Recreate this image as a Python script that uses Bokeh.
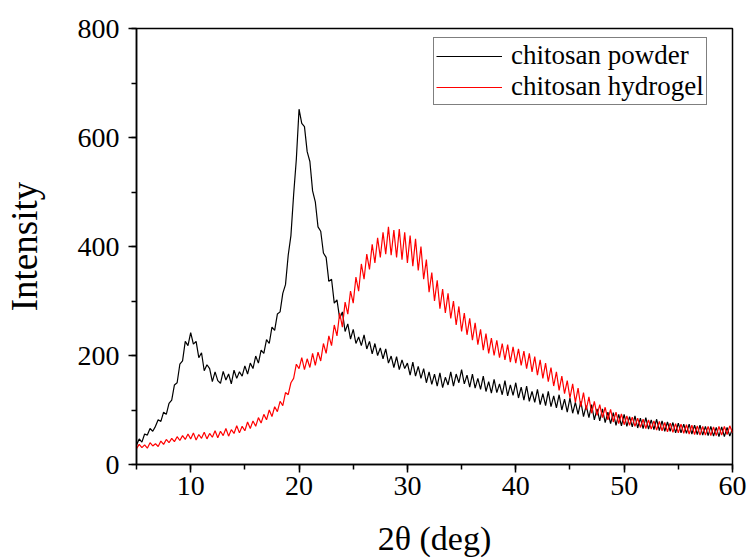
from bokeh.plotting import figure
from bokeh.models import Range1d, SingleIntervalTicker, Legend, LegendItem
from bokeh.embed import file_html
from bokeh.resources import INLINE

# 2-theta scan: 5 to 60 deg, step 0.25 deg
theta_start = 5.0
theta_step = 0.25

chitosan_powder = [
    36, 47, 41, 56, 54, 66, 61, 70, 82, 79, 96, 92, 112, 118, 146, 150, 184, 190, 226, 218,
    242, 221, 226, 196, 205, 172, 183, 176, 152, 170, 154, 149, 171, 155, 166, 148, 173, 158, 170, 162,
    181, 166, 186, 176, 199, 186, 210, 204, 229, 222, 252, 246, 276, 280, 314, 330, 384, 420, 495, 560,
    652, 626, 620, 574, 556, 502, 482, 436, 428, 388, 380, 336, 340, 296, 302, 268, 280, 244, 258, 230,
    248, 222, 234, 218, 238, 212, 226, 203, 222, 200, 214, 194, 212, 186, 199, 178, 198, 174, 192, 176,
    186, 164, 188, 162, 180, 158, 176, 150, 170, 147, 166, 144, 168, 141, 160, 146, 170, 144, 166, 150,
    174, 148, 164, 142, 166, 140, 158, 138, 162, 134, 152, 131, 156, 132, 148, 128, 154, 126, 146, 127,
    150, 122, 142, 118, 144, 116, 134, 114, 138, 110, 130, 108, 134, 106, 126, 104, 128, 100, 120, 96,
    122, 94, 114, 92, 116, 88, 108, 86, 110, 82, 102, 80, 102, 77, 96, 75, 95, 72, 92, 71,
    92, 70, 88, 69, 89, 67, 85, 66, 86, 65, 82, 64, 83, 62, 80, 61, 78, 61, 77, 58,
    76, 58, 74, 57, 74, 56, 72, 55, 72, 54, 70, 53, 70, 52, 68, 51, 69, 51, 68, 52,
    66,
]

chitosan_hydrogel = [
    29, 37, 31, 36, 30, 40, 34, 38, 33, 43, 37, 46, 40, 48, 42, 51, 44, 53, 46, 56,
    47, 58, 45, 55, 48, 59, 47, 57, 50, 62, 49, 61, 53, 66, 52, 64, 57, 71, 58, 70,
    62, 78, 66, 80, 70, 86, 76, 92, 82, 100, 88, 106, 97, 116, 108, 132, 128, 150, 158, 184,
    176, 196, 174, 194, 178, 204, 182, 206, 190, 222, 204, 236, 218, 256, 236, 278, 252, 298, 276, 318,
    296, 344, 318, 368, 340, 386, 358, 404, 370, 416, 380, 426, 386, 436, 384, 430, 380, 432, 376, 426,
    370, 420, 364, 414, 356, 400, 340, 376, 316, 352, 300, 338, 286, 322, 278, 314, 268, 300, 256, 290,
    244, 278, 238, 268, 228, 260, 220, 248, 210, 240, 204, 232, 200, 228, 196, 222, 192, 220, 188, 216,
    186, 212, 182, 208, 176, 204, 170, 198, 164, 192, 158, 186, 152, 178, 144, 170, 136, 162, 130, 154,
    122, 148, 114, 140, 106, 132, 100, 124, 94, 116, 90, 110, 86, 105, 82, 101, 78, 96, 75, 93,
    73, 89, 72, 87, 70, 85, 68, 83, 66, 82, 65, 80, 63, 79, 62, 77, 60, 76, 59, 75,
    58, 74, 57, 73, 56, 72, 55, 71, 54, 70, 54, 70, 53, 69, 53, 70, 54, 70, 55, 71,
    58,
]

series_names = ["chitosan powder", "chitosan hydrogel"]
series_colors = ["#000000", "#ff0000"]

n = len(chitosan_powder)
assert n == len(chitosan_hydrogel)
two_theta = [theta_start + theta_step * i for i in range(n)]

FONT = "Liberation Serif"

p = figure(width=749, height=560, output_backend="svg", toolbar_location=None,
           x_range=Range1d(5, 60), y_range=Range1d(0, 800),
           min_border_left=136, min_border_right=17, min_border_top=28, min_border_bottom=96)
p.background_fill_color = "white"
p.border_fill_color = "white"
p.xgrid.visible = False
p.ygrid.visible = False
p.outline_line_color = "black"
p.outline_line_width = 1.5

p.xaxis.ticker = SingleIntervalTicker(interval=10, num_minor_ticks=2)
p.yaxis.ticker = SingleIntervalTicker(interval=200, num_minor_ticks=2)

for ax in (p.xaxis[0], p.yaxis[0]):
    ax.axis_line_color = "black"
    ax.axis_line_width = 1.5
    ax.major_tick_line_color = "black"
    ax.minor_tick_line_color = "black"
    ax.major_tick_line_width = 1.5
    ax.minor_tick_line_width = 1.5
    ax.major_tick_out = 8
    ax.major_tick_in = 0
    ax.minor_tick_out = 5
    ax.minor_tick_in = 0
    ax.major_label_text_font = FONT
    ax.major_label_text_font_size = "28px"
    ax.major_label_text_color = "black"
    ax.axis_label_text_font = FONT
    ax.axis_label_text_font_style = "normal"
    ax.axis_label_text_color = "black"

p.xaxis.axis_label = "2θ (deg)"
p.xaxis.axis_label_text_font_size = "34px"
p.xaxis.axis_label_standoff = 22
p.xaxis.major_label_standoff = 4

p.yaxis.axis_label = "Intensity"
p.yaxis.axis_label_text_font_size = "37px"
p.yaxis.axis_label_standoff = 30
p.yaxis.major_label_standoff = 9

r1 = p.line(two_theta, chitosan_powder, line_color=series_colors[0], line_width=1.2)
r2 = p.line(two_theta, chitosan_hydrogel, line_color=series_colors[1], line_width=1.2)

legend = Legend(items=[LegendItem(label=series_names[0], renderers=[r1]),
                       LegendItem(label=series_names[1], renderers=[r2])],
                location=(297, 359))
legend.label_text_font = FONT
legend.label_text_font_size = "27px"
legend.label_text_color = "black"
legend.border_line_color = "black"
legend.border_line_width = 1
legend.background_fill_color = "white"
legend.background_fill_alpha = 1.0
legend.glyph_width = 66
legend.label_standoff = 9
legend.padding = 2
legend.spacing = 0
legend.margin = 0
p.add_layout(legend, "center")

open("out.html", "w").write(file_html(p, INLINE))
